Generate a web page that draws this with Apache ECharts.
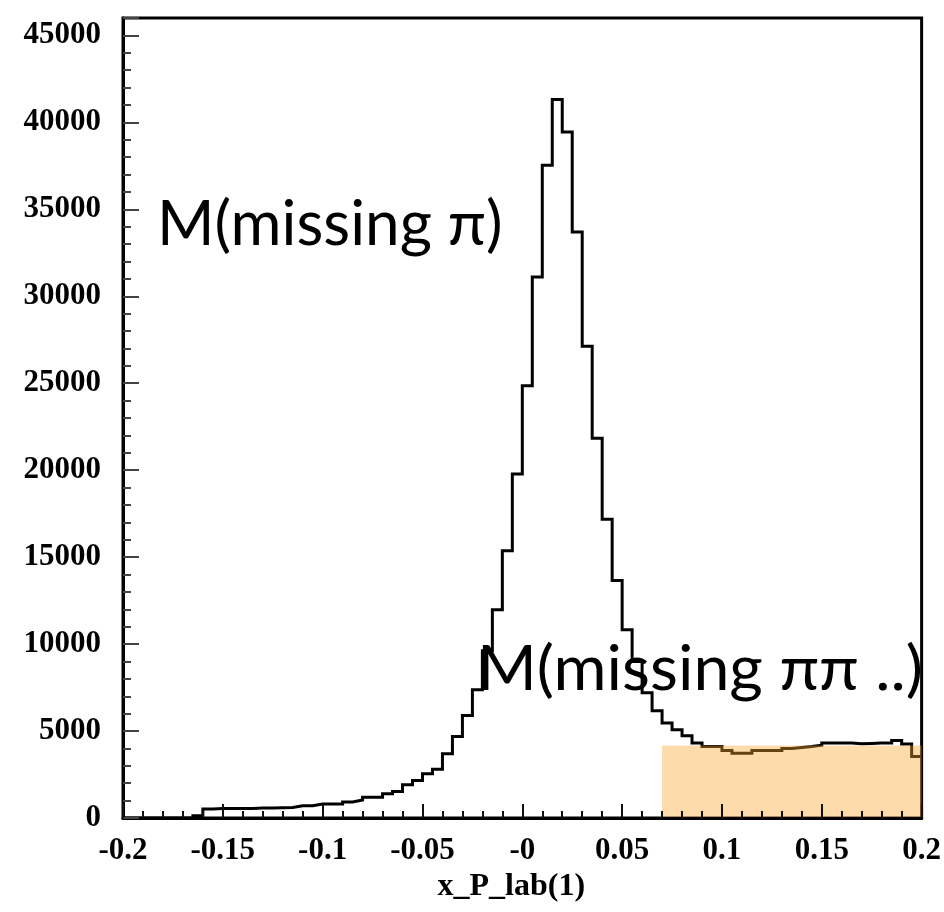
<!DOCTYPE html>
<html>
<head>
<meta charset="utf-8">
<script src="https://cdn.jsdelivr.net/npm/echarts@6/dist/echarts.min.js"></script>
<style>
  html, body { margin: 0; padding: 0; background: #fff; }
  #chart { width: 944px; height: 912px; }
</style>
</head>
<body>
<div id="chart"></div>
<script>
// Histogram binning: 80 bins of width 0.005 covering [-0.2, 0.2]
const binStart = -0.2;
const binWidth = 0.005;

// Entries per bin, left to right
const counts = [
  0, 0, 0, 0, 0, 0, 0, 130, 520, 540,
  540, 550, 550, 570, 580, 590, 600, 700, 700, 800,
  800, 800, 920, 1030, 1190, 1190, 1400, 1530, 1910, 2160,
  2540, 2810, 3690, 4690, 5890, 7370, 9610, 11970, 15360, 19780,
  24850, 31110, 37530, 41320, 39440, 33700, 27130, 21830, 17180, 13650,
  10820, 9000, 7200, 6160, 5460, 5070, 4730, 4310, 4110, 4110,
  3880, 3730, 3730, 3880, 3880, 3880, 4000, 4050, 4110, 4190,
  4310, 4310, 4310, 4270, 4290, 4310, 4310, 4460, 4250, 3540
];

// Axis ranges and tick labels
const xRange = [-0.2, 0.2];
const xStep = 0.05;
const xTickLabels = ['-0.2', '-0.15', '-0.1', '-0.05', '-0', '0.05', '0.1', '0.15', '0.2'];
const yRange = [0, 46000];
const yStep = 5000;
const yTickLabels = ['0', '5000', '10000', '15000', '20000', '25000', '30000', '35000', '40000', '45000'];
const xAxisTitle = 'x_P_lab(1)';

// Shaded multi-pion region
const bandX = [0.07, 0.2];
const bandLevel = 4170;

// Text annotations
const peakNote = 'M(missing π)';
const tailNote = 'M(missing ππ ..)';

// Step outline: one point per left bin edge, plus the closing right edge
const outline = counts.map((c, i) => [binStart + i * binWidth, c]);
outline.push([binStart + counts.length * binWidth, counts[counts.length - 1]]);

const band = bandX.map(x => [x, bandLevel]);

const labelFont = {
  fontFamily: 'Liberation Serif',
  fontWeight: 'bold',
  fontSize: 31,
  color: '#000'
};

const chart = echarts.init(document.getElementById('chart'), null, { renderer: 'canvas' });

chart.setOption({
  animation: false,
  backgroundColor: '#fff',
  grid: {
    left: 123, right: 21, top: 18, bottom: 94,
    show: true, borderColor: '#000', borderWidth: 3, backgroundColor: 'transparent'
  },
  xAxis: {
    type: 'value',
    min: xRange[0], max: xRange[1], interval: xStep,
    z: 4,
    axisLine: { show: true, onZero: false, lineStyle: { color: '#000', width: 3 } },
    axisTick: { show: true, inside: true, length: 14, lineStyle: { color: '#111', width: 2 } },
    minorTick: { show: true, splitNumber: 5, length: 7, lineStyle: { color: '#111', width: 2 } },
    splitLine: { show: false },
    axisLabel: Object.assign({
      margin: 17,
      formatter: v => xTickLabels[Math.round((v - xRange[0]) / xStep)] || ''
    }, labelFont),
    name: xAxisTitle,
    nameLocation: 'middle',
    nameGap: 51,
    nameTextStyle: Object.assign({ padding: [0, 22, 0, 0] }, labelFont, { fontSize: 32 })
  },
  yAxis: {
    type: 'value',
    min: yRange[0], max: yRange[1], interval: yStep,
    z: 4,
    axisLine: { show: true, onZero: false, lineStyle: { color: '#000', width: 3 } },
    axisTick: { show: true, inside: true, length: 16, lineStyle: { color: '#444', width: 2 } },
    minorTick: { show: true, splitNumber: 5, length: 8, lineStyle: { color: '#444', width: 2 } },
    splitLine: { show: false },
    axisLabel: Object.assign({
      margin: 22,
      formatter: v => (v % yStep === 0 ? (yTickLabels[v / yStep] || '') : '')
    }, labelFont)
  },
  series: [
    {
      name: 'histogram',
      type: 'line',
      step: 'end',
      data: outline,
      symbol: 'none',
      z: 2,
      silent: true,
      lineStyle: { color: '#000', width: 3, join: 'miter' }
    },
    {
      name: 'band',
      type: 'line',
      data: band,
      symbol: 'none',
      z: 3,
      silent: true,
      lineStyle: { width: 0 },
      areaStyle: { color: 'rgba(251,165,45,0.4)', opacity: 1 }
    }
  ],
  graphic: [
    {
      type: 'text', z: 10, left: 157, top: 194,
      style: { text: peakNote, font: '62px Lato', fill: '#000' }
    },
    {
      type: 'text', z: 10, left: 477, top: 639, scaleX: 1.04,
      style: { text: tailNote, font: '62px Lato', fill: '#000' }
    }
  ]
});
</script>
</body>
</html>
